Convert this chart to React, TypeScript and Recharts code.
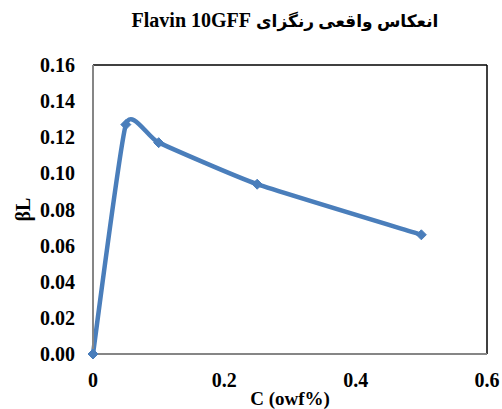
import React from "react";
import {
  LineChart,
  Line,
  XAxis,
  YAxis,
  ReferenceLine,
} from "recharts";

const concentrations = [0, 0.05, 0.1, 0.25, 0.5];
const betaL = [0, 0.127, 0.117, 0.094, 0.066];
const xTicks = [0, 0.2, 0.4, 0.6];
const yTicks = [0, 0.02, 0.04, 0.06, 0.08, 0.1, 0.12, 0.14, 0.16];

const titleFa = "انعکاس واقعی رنگزای";
const titleEn = "Flavin 10GFF";
const xTitle = "C (owf%)";
const yTitle = "βL";

const BLUE = "#4A7EBB";
const FONT = '"Liberation Serif", "Times New Roman", "DejaVu Sans", serif';

const data = concentrations.map((c, i) => ({ c, value: betaL[i] }));

// smoothed line similar to the spreadsheet "smoothed line" option
const K = 1 / 12;
const smoothCurve = (context: any) => {
  let pts: [number, number][] = [];
  return {
    areaStart() {},
    areaEnd() {},
    lineStart() {
      pts = [];
    },
    point(x: number, y: number) {
      pts.push([+x, +y]);
    },
    lineEnd() {
      const n = pts.length;
      if (!n) return;
      context.moveTo(pts[0][0], pts[0][1]);
      for (let i = 0; i < n - 1; i++) {
        const p0 = pts[Math.max(i - 1, 0)];
        const p1 = pts[i];
        const p2 = pts[i + 1];
        const p3 = pts[Math.min(i + 2, n - 1)];
        context.bezierCurveTo(
          p1[0] + (p2[0] - p0[0]) * K,
          p1[1] + (p2[1] - p0[1]) * K,
          p2[0] - (p3[0] - p1[0]) * K,
          p2[1] - (p3[1] - p1[1]) * K,
          p2[0],
          p2[1]
        );
      }
    },
  };
};

const Diamond = (props: any) => {
  const { cx, cy, index } = props;
  const s = 5;
  return (
    <path
      key={`d-${index}`}
      d={`M${cx},${cy - s}L${cx + s},${cy}L${cx},${cy + s}L${cx - s},${cy}Z`}
      fill={BLUE}
      stroke={BLUE}
      strokeWidth={1}
    />
  );
};

const XTick = (props: any) => {
  const { x, y, payload } = props;
  const v = payload.value;
  return (
    <text x={x} y={y + 33} textAnchor="middle" fontFamily={FONT} fontWeight="bold" fontSize={20} fill="#000">
      {v === 0 ? "0" : String(v)}
    </text>
  );
};

const YTick = (props: any) => {
  const { x, y, payload } = props;
  return (
    <text x={x - 18} y={y + 7} textAnchor="end" fontFamily={FONT} fontWeight="bold" fontSize={20} fill="#000">
      {Number(payload.value).toFixed(2)}
    </text>
  );
};

export default function App() {
  return (
    <div style={{ position: "absolute", left: 0, top: 0, width: 502, height: 409, background: "#fff" }}>
      <div
        dir="rtl"
        style={{
          position: "absolute",
          left: 85,
          top: 9,
          width: 400,
          textAlign: "center",
          fontFamily: FONT,
          fontWeight: "bold",
          fontSize: 20,
          lineHeight: "22px",
          color: "#000",
          whiteSpace: "nowrap",
        }}
      >
        <span style={{ fontSize: 17 }}>{titleFa}</span> <span dir="ltr">{titleEn}</span>
      </div>
      <LineChart
        width={502}
        height={409}
        data={data}
        margin={{ top: 65, right: 15, bottom: 0, left: 0 }}
      >
        <XAxis
          dataKey="c"
          type="number"
          domain={[0, 0.6]}
          ticks={xTicks}
          height={55}
          tickLine={false}
          tickSize={0}
          tickMargin={0}
          axisLine={{ stroke: "#868686", strokeWidth: 2 }}
          tick={<XTick />}
          interval={0}
          label={{
            content: (p: any) => {
              const vb = p.viewBox;
              return (
                <text x={vb.x + vb.width / 2} y={vb.y + 51} textAnchor="middle" fontFamily={FONT} fontWeight="bold" fontSize={19} fill="#000">
                  {xTitle}
                </text>
              );
            },
          }}
        />
        <YAxis
          type="number"
          domain={[0, 0.16]}
          ticks={yTicks}
          width={93}
          tickLine={false}
          tickSize={0}
          tickMargin={0}
          axisLine={{ stroke: "#868686", strokeWidth: 2 }}
          tick={<YTick />}
          interval={0}
          label={{
            content: (p: any) => {
              const vb = p.viewBox;
              const cx = vb.x + 23;
              const cy = vb.y + vb.height / 2;
              return (
                <text x={cx} y={cy} transform={`rotate(-90 ${cx} ${cy})`} textAnchor="middle" dominantBaseline="central" fontFamily={FONT} fontWeight="bold" fontSize={20} fill="#000">
                  {yTitle}
                </text>
              );
            },
          }}
        />
        <ReferenceLine y={0.16} stroke="#000" strokeWidth={1.5} />
        <ReferenceLine x={0.6} stroke="#000" strokeWidth={1.5} />
        <Line
          dataKey="value"
          type={smoothCurve as any}
          stroke={BLUE}
          strokeWidth={4.5}
          dot={<Diamond />}
          activeDot={false}
          isAnimationActive={false}
        />
      </LineChart>
    </div>
  );
}
